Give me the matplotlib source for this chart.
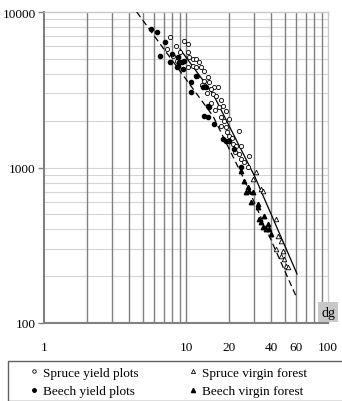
import matplotlib.pyplot as plt
from matplotlib.lines import Line2D
from matplotlib.patches import Rectangle

plt.rcParams['font.family'] = ['Liberation Serif', 'DejaVu Serif']

# Spruce yield plots (open circles): dg [cm], N [trees/ha]
spruce_yield_dg = [7.7, 7.35, 8.5, 8.1, 8.65, 9.1, 9.0, 9.5, 9.7, 10.3, 10.3, 10.5, 10.3,
                   11.2, 11.8, 12.3, 11.2, 11.8, 12.8, 13.4, 12.0, 14.3, 13.4, 14.5, 13.0,
                   15.7, 16.8, 15.0, 15.5, 16.3, 14.0, 17.6, 18.2, 17.1, 15.0, 19.1, 16.0,
                   17.6, 20.1, 17.6, 19.1, 18.5, 23.6, 20.1, 19.5, 21.4, 21.0, 22.5, 24.4,
                   23.6, 22.0, 24.4, 27.8, 25.6, 27.3]
spruce_yield_n = [6900, 5780, 6000, 5200, 4840, 5530, 4800, 4300, 6500, 6200, 5500, 5100, 4400,
                  5000, 5000, 4800, 4500, 4400, 4400, 4200, 3900, 3800, 3600, 3550, 3400,
                  3300, 3300, 3200, 2970, 2900, 3000, 2700, 2500, 2450, 2600, 2300, 2350,
                  2100, 2050, 1850, 1820, 2000, 1720, 1600, 1700, 1420, 1550, 1370, 1370,
                  1220, 1250, 1130, 1190, 1080, 1010]

# Beech yield plots (filled circles)
beech_yield_dg = [5.7, 6.25, 7.1, 6.6, 7.7, 8.0, 8.8, 9.4, 9.5, 8.65, 8.9, 9.7, 8.8,
                  11.8, 10.8, 10.8, 13.2, 13.8, 14.3, 14.5, 13.4, 14.3, 15.7, 18.2,
                  19.1, 20.1, 21.8, 24.4]
beech_yield_n = [7800, 7400, 6400, 5200, 4800, 5400, 5100, 4800, 4300, 4400, 4800, 4850, 4500,
                 3900, 3550, 3060, 3300, 3300, 2500, 2450, 2140, 2100, 1900, 1520,
                 1480, 1480, 1310, 1010]

# Spruce virgin forest (open triangles)
spruce_virgin_dg = [29.6, 31.1, 33.7, 34.9, 43.0, 44.5, 46.7, 43.0, 48.2, 46.7, 49.0, 50.6, 52.3]
spruce_virgin_n = [844, 936, 728, 707, 467, 362, 337, 299, 290, 270, 258, 233, 229]

# Beech virgin forest (filled triangles)
beech_virgin_dg = [24.4, 25.6, 27.3, 27.8, 29.6, 26.5, 28.7, 32.1, 32.1, 32.7, 33.7, 35.4,
                   37.8, 34.9, 36.6, 38.4, 39.7]
beech_virgin_n = [950, 820, 750, 707, 696, 696, 600, 582, 557, 467, 447, 488,
                  434, 414, 403, 403, 374]

# fitted lines
spruce_line_dg = [9.07, 15.5, 30.6, 60.5]
spruce_line_n = [5780, 2970, 869, 207]
beech_line_dg = [4.5, 15.5, 25.2, 59.5]
beech_line_n = [10000, 2140, 869, 149]

xticks = [1, 10, 20, 40, 60, 100]

fig = plt.figure(figsize=(3.42, 4.02), dpi=100)
ax = fig.add_axes([44/342, 1-324/402, (328-44)/342, (324-13)/402])
ax.set_xscale('log')
ax.set_yscale('log')
ax.set_xlim(1, 100)
ax.set_ylim(100, 10000)

# grid
for v in [2, 3, 4, 5, 6, 7, 8, 9, 10, 20, 30, 40, 50, 60, 70, 80, 90]:
    ax.axvline(v, color='#808080', lw=1.0, zorder=1)
for v in [200, 300, 400, 500, 600, 700, 800, 900, 1000,
          2000, 3000, 4000, 5000, 6000, 7000, 8000, 9000]:
    ax.axhline(v, color='#d4d4d4', lw=0.8, zorder=0)

ax.plot(spruce_line_dg, spruce_line_n, color='black', lw=0.9, zorder=3)
ax.plot(beech_line_dg, beech_line_n, color='black', lw=0.9, ls=(0, (5, 3)), zorder=3)

ax.plot(spruce_yield_dg, spruce_yield_n, 'o', ms=3, mfc='white', mec='black', mew=0.6, zorder=4)
ax.plot(beech_yield_dg, beech_yield_n, 'o', ms=3, mfc='black', mec='black', zorder=4)
ax.plot(spruce_virgin_dg, spruce_virgin_n, '^', ms=3.3, mfc='white', mec='black', mew=0.6, zorder=4)
ax.plot(beech_virgin_dg, beech_virgin_n, '^', ms=3.2, mfc='black', mec='black', zorder=4)

for s in ['top', 'right']:
    ax.spines[s].set_color('#c8c8c8')
    ax.spines[s].set_linewidth(1.0)
for s in ['left', 'bottom']:
    ax.spines[s].set_color('#808080')
    ax.spines[s].set_linewidth(1.5)

ax.set_yticks([100, 1000, 10000])
ax.set_yticklabels(['100', '1000', '10000'])
ax.yaxis.set_minor_locator(plt.NullLocator())
ax.set_xticks(xticks)
ax.set_xticklabels([str(t) for t in xticks])
ax.xaxis.set_minor_locator(plt.NullLocator())
ax.tick_params(axis='y', length=4, width=1, color='#808080', labelsize=9.5, pad=2)
ax.tick_params(axis='x', length=0, labelsize=9.5, pad=13)

ax.text(1.0, 0.035, 'dg', transform=ax.transAxes, ha='center', va='center', fontsize=10,
        bbox=dict(boxstyle='square,pad=0.25', fc='#c8c8c8', ec='none'), zorder=5)

# legend frame
fig.patches.append(Rectangle((8/342, 0.5/402), 1.0, 40/402, transform=fig.transFigure,
                             fc='white', ec='#606060', lw=1.0))

handles = [
    Line2D([], [], ls='', marker='o', ms=2.5, mfc='white', mec='black', mew=0.6),
    Line2D([], [], ls='', marker='o', ms=2.5, mfc='black', mec='black'),
    Line2D([], [], ls='', marker='^', ms=3, mfc='white', mec='black', mew=0.6),
    Line2D([], [], ls='', marker='^', ms=3, mfc='black', mec='black'),
]
labels = ['Spruce yield plots', 'Beech yield plots', 'Spruce virgin forest', 'Beech virgin forest']
leg = fig.legend(handles, labels, ncol=2, loc='center left',
                 bbox_to_anchor=(27/342, 19/402), frameon=False, fontsize=9.5,
                 handletextpad=0.2, handlelength=1.0, borderaxespad=0, borderpad=0,
                 labelspacing=0.45, columnspacing=3.6)

fig.savefig('out.png', dpi=100)
